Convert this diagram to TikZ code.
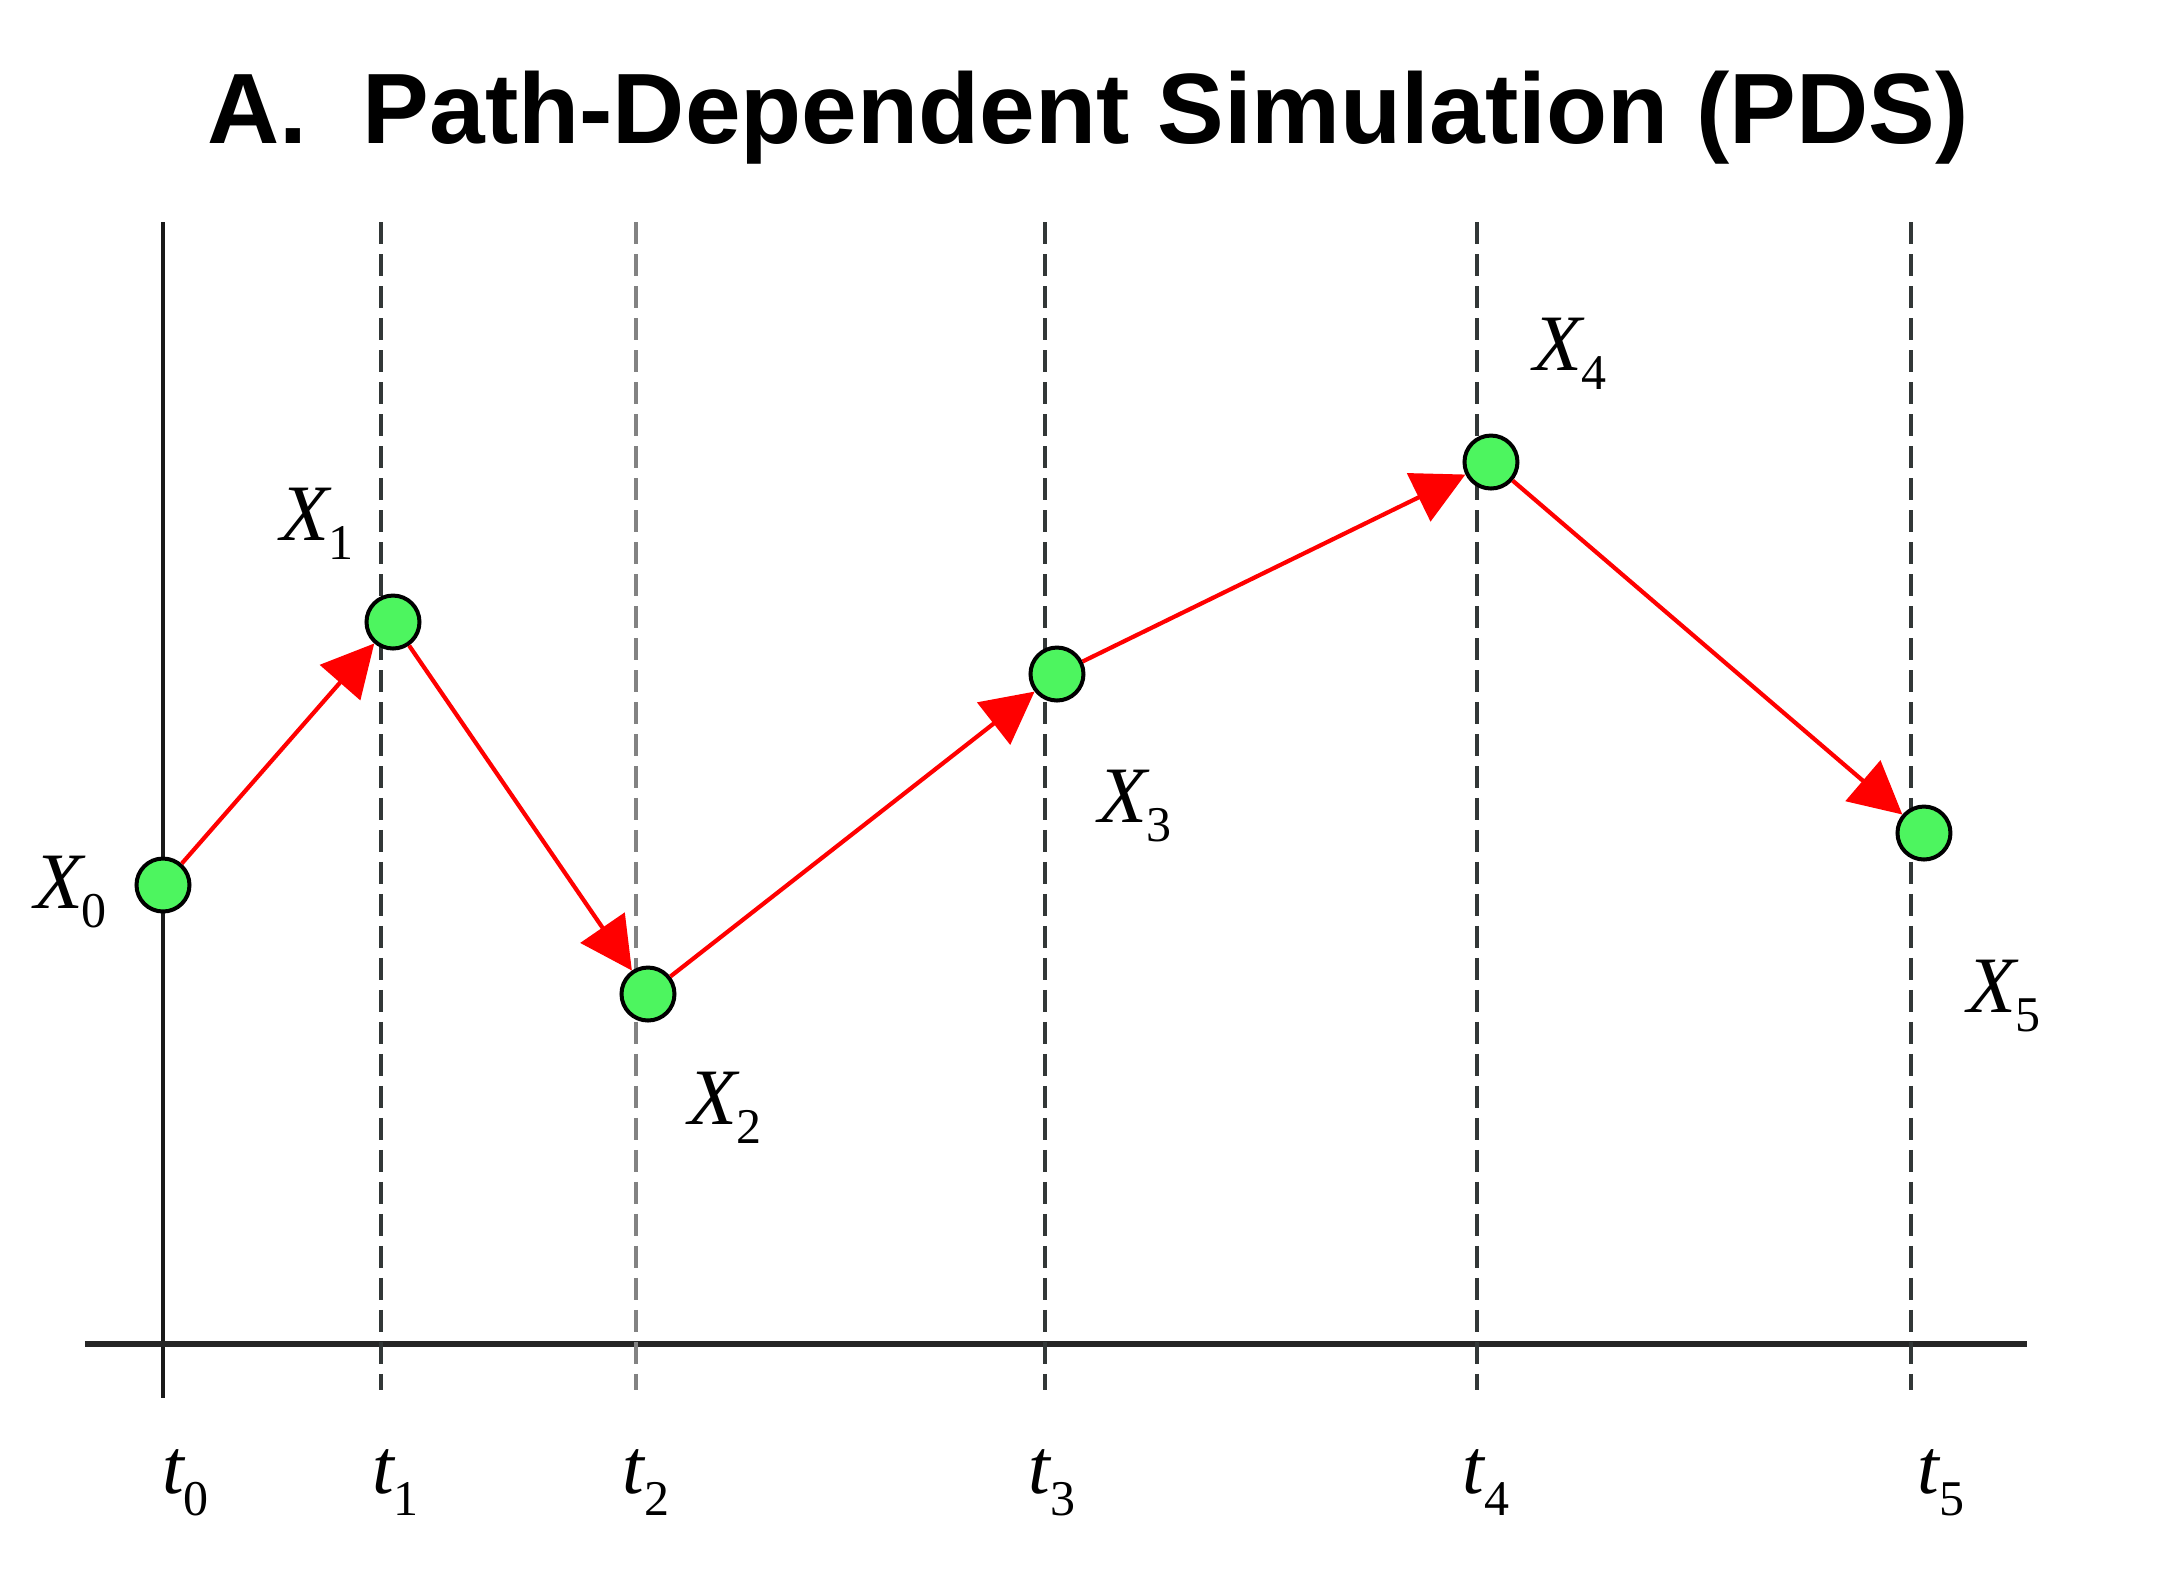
\documentclass[tikz,border=0pt]{standalone}
\usepackage{fontspec}
\setmainfont{Liberation Serif}
\newfontfamily\titlefont{Liberation Sans}
\usetikzlibrary{arrows.meta}
\definecolor{dotgreen}{RGB}{77,245,95}
\definecolor{dashgray}{RGB}{50,55,55}
\definecolor{lightdash}{RGB}{130,130,130}
\newcommand\xlab[1]{\textit{X}\kern-0.4pt\raisebox{-1.9pt}{\fontsize{5}{6}\selectfont #1}}
\newcommand\tlab[1]{\textit{t}\kern-0.2pt\raisebox{-2.2pt}{\fontsize{5}{6}\selectfont #1}}
\begin{document}
\begin{tikzpicture}[x=0.1pt,y=-0.1pt,
  dot/.style={circle,draw=black,line width=0.4pt,fill=dotgreen,inner sep=0pt,minimum size=5.3pt},
  xlabel/.style={anchor=base west,inner sep=0pt,font=\fontsize{8}{9}\selectfont},
  tlabel/.style={anchor=base west,inner sep=0pt,font=\fontsize{7.8}{9}\selectfont},
  gridline/.style={dashgray,line width=0.4pt,dash pattern=on 2.2pt off 1pt},
  stepline/.style={red,line width=0.42pt,-{Triangle[length=5.2pt,width=5.3pt]}},
  axisline/.style={black!85,line width=0.65pt},
]
\useasboundingbox (0,0) rectangle (2160,1590);

% title
\node[anchor=base,inner sep=0pt,font=\titlefont\bfseries\fontsize{10}{12}\selectfont] (title) at (1088,143) {A.\ \ Path-Dependent Simulation (PDS)};

% axes
\coordinate (vtop) at (163,222);
\coordinate (vbot) at (163,1398);
\coordinate (hleft) at (85,1344);
\coordinate (hright) at (2027,1344);
\draw[black!90,line width=0.45pt] (vtop) -- (vbot);
\draw[axisline] (hleft) -- (hright);

% dashed time lines
\coordinate (d1t) at (381,222);  \coordinate (d1b) at (381,1390);
\coordinate (d2t) at (636,222);  \coordinate (d2b) at (636,1390);
\coordinate (d3t) at (1045,222); \coordinate (d3b) at (1045,1390);
\coordinate (d4t) at (1477,222); \coordinate (d4b) at (1477,1390);
\coordinate (d5t) at (1911,222); \coordinate (d5b) at (1911,1390);
\draw[gridline] (d1t) -- (d1b);
\draw[gridline,lightdash] (d2t) -- (d2b);
\draw[gridline] (d3t) -- (d3b);
\draw[gridline] (d4t) -- (d4b);
\draw[gridline] (d5t) -- (d5b);

% time labels
\node[tlabel] (t0) at (160,1493) {\tlab{0}};
\node[tlabel] (t1) at (370,1493) {\tlab{1}};
\node[tlabel] (t2) at (621,1493) {\tlab{2}};
\node[tlabel] (t3) at (1027,1493) {\tlab{3}};
\node[tlabel] (t4) at (1461,1493) {\tlab{4}};
\node[tlabel] (t5) at (1916,1493) {\tlab{5}};

% states
\node[dot] (X0) at (163,885) {};
\node[dot] (X1) at (393,622) {};
\node[dot] (X2) at (648,994) {};
\node[dot] (X3) at (1057,674) {};
\node[dot] (X4) at (1491,462) {};
\node[dot] (X5) at (1924,833) {};

% state labels
\node[xlabel] (L0) at (32,908) {\xlab{0}};
\node[xlabel] (L1) at (279,540) {\xlab{1}};
\node[xlabel] (L2) at (687,1124) {\xlab{2}};
\node[xlabel] (L3) at (1097,822) {\xlab{3}};
\node[xlabel] (L4) at (1532,370) {\xlab{4}};
\node[xlabel] (L5) at (1966,1012) {\xlab{5}};

% path
\draw[stepline] (X0) -- (X1);
\draw[stepline] (X1) -- (X2);
\draw[stepline] (X2) -- (X3);
\draw[stepline] (X3) -- (X4);
\draw[stepline] (X4) -- (X5);
\end{tikzpicture}
\end{document}
